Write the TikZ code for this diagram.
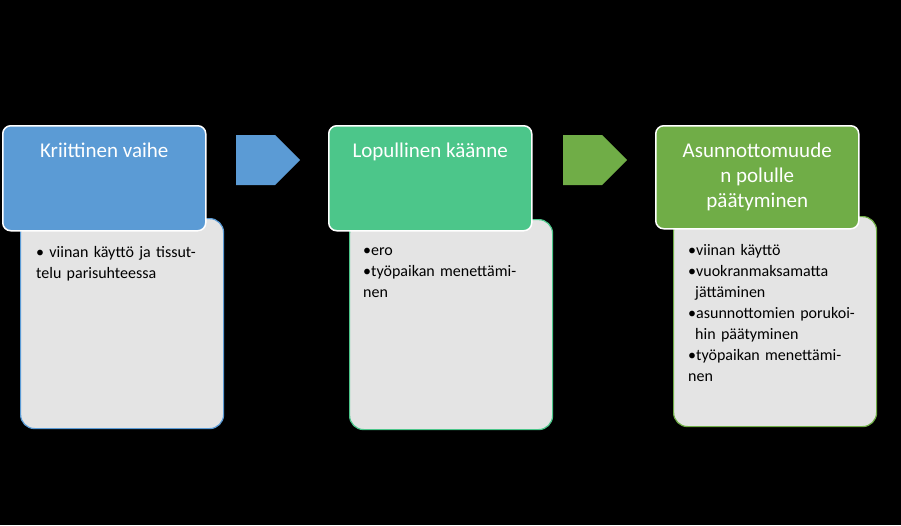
\documentclass[tikz,border=0pt]{standalone}
\usepackage{fontspec}
\setmainfont{Carlito}
\usepackage{tikz}
\usetikzlibrary{shapes.arrows}

\definecolor{stageblue}{HTML}{5B9BD5}
\definecolor{stageteal}{HTML}{4CC68A}
\definecolor{stagegreen}{HTML}{70AD47}
\definecolor{notegray}{HTML}{E4E4E4}

\tikzset{
  headbox/.style={draw=white, line width=1.5pt, rounded corners=8pt, anchor=north west,
    minimum width=203pt, minimum height=105pt, text=white, font=\fontsize{21}{25}\selectfont,
    align=center, inner sep=0pt},
  notebox/.style={line width=1.2pt, fill=notegray, rounded corners=14pt, anchor=north west,
    minimum width=203pt, minimum height=210pt},
  notetext/.style={anchor=north west, text width=170pt, align=left, inner sep=0pt,
    font=\fontsize{16}{21}\selectfont},
  stagearrow/.style={single arrow, minimum height=64pt, minimum width=50pt,
    single arrow head extend=0pt, inner sep=0pt, anchor=west}
}
\newcommand{\itm}[1]{\par\hangindent=7pt\hangafter=1\textbullet #1}

\begin{document}
\begin{tikzpicture}[x=1pt,y=-1pt]
  \fill[black] (0,0) rectangle (901,525);
  \useasboundingbox (0,0) rectangle (901,525);

  % lower boxes
  \node[notebox, draw=stageblue] (noteA) at (20,218) {};
  \node[notebox, draw=stageteal] (noteB) at (349,219) {};
  \node[notebox, draw=stagegreen] (noteC) at (673,216) {};

  % headers
  \node[headbox, fill=stageblue] (headA) at (2,125) {};
  \node[headbox, fill=stageteal] (headB) at (328,125) {};
  \node[headbox, fill=stagegreen, minimum height=103pt] (headC) at (655,125) {};

  \node[text=white, font=\fontsize{21}{25}\selectfont, anchor=north] (titleA) at ([yshift=-14pt]headA.north) {Kriittinen vaihe};
  \node[text=white, font=\fontsize{21}{25}\selectfont, anchor=north] (titleB) at ([yshift=-14pt]headB.north) {Lopullinen käänne};
  \node[text=white, font=\fontsize{21}{25}\selectfont, anchor=north, align=center] (titleC) at ([yshift=-14pt]headC.north) {Asunnottomuude\\n polulle\\päätyminen};

  % contents
  \node[notetext] (textA) at (36,236) {\itm{ viinan käyttö ja tissuttelu parisuhteessa}};
  \node[notetext] (textB) at (363,234) {\itm{ero}\itm{työpaikan menettäminen}};
  \node[notetext] (textC) at (688,234) {\itm{viinan käyttö}\itm{vuokranmaksamatta jättäminen}\itm{asunnottomien porukoihin päätyminen}\itm{työpaikan menettäminen}};

  % arrows
  \node[stagearrow, fill=stageblue] (arrowA) at (236,160) {};
  \node[stagearrow, fill=stagegreen] (arrowB) at (563,160) {};
\end{tikzpicture}
\end{document}
